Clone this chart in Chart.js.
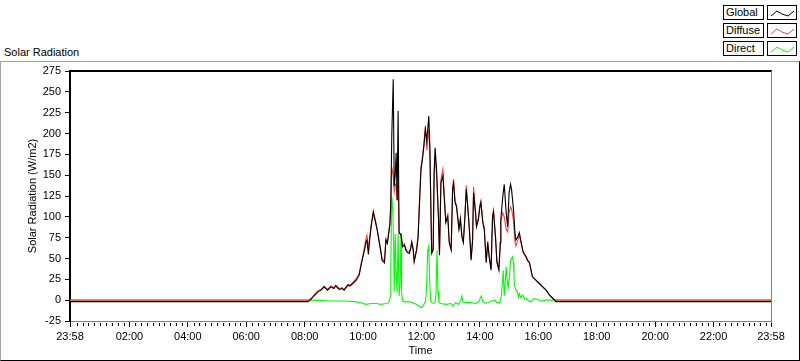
<!DOCTYPE html>
<html>
<head>
<meta charset="utf-8">
<script src="https://cdn.jsdelivr.net/npm/chart.js@4/dist/chart.umd.min.js"></script>
<style>
  html, body { margin:0; padding:0; background:#fff; }
  body { width:800px; height:361px; position:relative; overflow:hidden; font-family:"Liberation Sans", Arial, sans-serif; font-size:11px; color:#000; }
  #frame { position:absolute; left:0; top:61px; width:800px; height:300px; box-sizing:border-box;
           border-top:1px solid #a0a0a0; border-left:1px solid #a0a0a0; border-right:1px solid #000; border-bottom:1px solid #000; }
  #title { position:absolute; left:4px; top:46px; font-size:11px; }
  canvas { position:absolute; left:0; top:0; }
  .lg { position:absolute; box-sizing:border-box; border:1px solid #000; background:#fff; height:15px; }
  .lg.t { left:723px; width:41px; padding-left:2px; line-height:13px; font-size:11px; }
  .lg.s { left:767px; width:30px; }
  .lg svg { position:absolute; left:0; top:0; }
</style>
</head>
<body>
<div id="frame"></div>
<div id="title">Solar Radiation</div>
<canvas id="c" width="800" height="361"></canvas>
<div id="legend"></div>
<script>
// ---- data (minutes of day; 23:58 of previous day = -2) ----
const seriesNames = ["Global", "Diffuse", "Direct"];
const seriesColors = ["#000000", "#ff4040", "#00ff00"];
const xTickValues = [-2, 120, 240, 360, 480, 600, 720, 840, 960, 1080, 1200, 1320, 1438];
const xTickLabels = ["23:58","02:00","04:00","06:00","08:00","10:00","12:00","14:00","16:00","18:00","20:00","22:00","23:58"];

const sampleTimes = [
  -2, 473, 487, 493, 499, 507, 514, 520, 527, 534, 540, 544, 551, 557, 561, 569, 573, 579, 586, 592,
  596, 599, 603, 606, 608, 611, 614, 617, 621, 625, 629, 633, 636, 639, 644, 647, 650, 653, 655, 657,
  659, 662, 664, 666, 668, 670, 672, 674, 678, 681, 685, 688, 691, 695, 698, 700, 703, 705, 710, 713,
  716, 719, 722, 725, 728, 731, 735, 737, 741, 744, 746, 748, 751, 755, 757, 760, 764, 767, 770, 774,
  777, 781, 784, 786, 789, 792, 797, 800, 803, 806, 809, 812, 815, 818, 822, 825, 827, 831, 833, 837,
  840, 842, 846, 849, 853, 856, 859, 863, 866, 868, 872, 875, 879, 882, 883, 887, 890, 894, 897, 900,
  903, 905, 909, 912, 914, 918, 921, 924, 928, 931, 935, 938, 942, 945, 948, 955, 962, 969, 976, 983,
  990, 996, 1438
];
const globalValues = [
  -1.8, -1.8, -1.8, 1, 5, 10, 12, 16, 12, 16, 14, 17, 13, 14, 12, 18, 17, 20, 24, 30,
  42, 50, 60, 70, 72, 55, 75, 90, 105, 95, 84, 70, 60, 48, 45, 72, 68, 81, 90, 117,
  197, 265, 137, 150, 177, 120, 227, 81, 78, 64, 66, 60, 57, 56, 62, 69, 60, 46, 60, 75,
  117, 157, 169, 185, 205, 191, 221, 189, 56, 60, 153, 183, 157, 97, 54, 141, 149, 121, 93, 100,
  69, 60, 133, 140, 117, 112, 85, 97, 76, 69, 97, 133, 112, 88, 48, 72, 129, 105, 88, 97,
  112, 117, 93, 85, 45, 69, 52, 36, 100, 106, 76, 45, 36, 69, 97, 124, 139, 105, 88, 129,
  139, 133, 109, 81, 72, 76, 81, 72, 60, 56, 52, 48, 45, 36, 28, 24, 20, 16, 12, 6,
  2, -1.8, -1.8
];
const diffuseValues = [
  0, 0, 0, 2, 6, 11, 13, 17, 13, 17, 15, 18, 14, 15, 13, 19, 18, 21, 26, 32,
  44, 52, 64, 74, 78, 62, 77, 92, 107, 97, 86, 72, 62, 50, 47, 74, 70, 83, 92, 110,
  160, 150, 130, 138, 140, 120, 140, 80, 80, 66, 68, 62, 59, 58, 64, 71, 62, 48, 62, 77,
  120, 160, 172, 188, 209, 180, 205, 185, 58, 62, 150, 175, 150, 99, 56, 145, 157, 124, 95, 103,
  71, 62, 136, 145, 119, 114, 87, 99, 78, 71, 99, 138, 114, 90, 50, 74, 136, 107, 90, 99,
  114, 119, 95, 87, 47, 71, 54, 38, 102, 108, 78, 47, 38, 70, 95, 105, 100, 85, 82, 105,
  112, 110, 95, 70, 65, 72, 78, 70, 58, 55, 51, 47, 44, 36, 28, 24, 20, 16, 12, 6,
  2, 0, 0
];
const directTimes = [
  -2, 473, 493, 534, 565, 586, 596, 606, 617, 627, 637, 647, 653, 656, 657, 659, 661, 663, 664, 666,
  668, 670, 672, 674, 676, 678, 679, 681, 684, 698, 709, 715, 719, 724, 728, 730, 733, 735, 737, 739,
  741, 744, 748, 750, 752, 754, 756, 760, 770, 781, 784, 790, 796, 801, 803, 805, 811, 822, 832, 838,
  841, 843, 846, 853, 863, 871, 875, 881, 884, 887, 888, 890, 892, 894, 896, 898, 901, 903, 907, 909,
  910, 911, 914, 917, 919, 921, 924, 928, 932, 936, 940, 945, 951, 957, 965, 976, 1438
];
const directValues = [
  0, 0, 0, -1, -1, -2, -3, -5, -4, -4, -5, -4, -3, 5, 40, 125, 110, 60, 10, 80,
  30, 10, 80, 5, 20, 80, 10, 0, -2, -2, -5, -7, -9, -6, -2, 10, 60, 65, 20, 0,
  -3, -4, -3, 10, 60, 10, -3, -4, -5, -4, -7, -3, -5, 0, 5, -2, -3, -3, -4, -2,
  3, 5, -2, -4, -1, 0, -3, -3, 5, 25, 36, 5, 20, 40, 25, 15, 30, 48, 52, 45,
  30, 18, 12, 10, 4, 8, 3, 6, 1, 2, -1, -2, 2, 1, -1, 0, 0
];

const toPts = (ts, vs) => ts.map((t, i) => ({ x: t, y: vs[i] }));

// ---- legend ----
const lg = document.getElementById('legend');
const zig = "3,10 9,5 14,8 20,10 26,5";
seriesNames.forEach((n, i) => {
  const top = 5 + i * 18;
  const t = document.createElement('div');
  t.className = 'lg t'; t.style.top = top + 'px'; t.textContent = n;
  const s = document.createElement('div');
  s.className = 'lg s'; s.style.top = top + 'px';
  s.innerHTML = '<svg width="28" height="13"><polyline points="' + zig + '" fill="none" stroke="' + seriesColors[i] + '" stroke-width="1"/></svg>';
  lg.appendChild(t); lg.appendChild(s);
});

const FONT = { family: '"Liberation Sans", Arial, sans-serif', size: 11 };

const framePlugin = {
  id: 'framePlugin',
  afterDraw(chart) {
    const { ctx, chartArea: a } = chart;
    const xs = chart.scales.x;
    ctx.save();
    ctx.strokeStyle = '#000'; ctx.lineWidth = 2;
    ctx.beginPath(); ctx.moveTo(a.left - 1, a.top); ctx.lineTo(a.right + 1, a.top); ctx.stroke();
    ctx.strokeStyle = '#808080'; ctx.lineWidth = 1;
    ctx.beginPath(); ctx.moveTo(Math.round(a.right) + 0.5, a.top); ctx.lineTo(Math.round(a.right) + 0.5, a.bottom + 2); ctx.stroke();
    ctx.strokeStyle = '#000';
    ctx.beginPath();
    for (let m = 12; m < 1438; m += 12) {
      if (xTickValues.some(v => Math.abs(v - m) < 3)) continue;
      const px = Math.round(xs.getPixelForValue(m)) + 0.5;
      ctx.moveTo(px, a.bottom + 2); ctx.lineTo(px, a.bottom + 5);
    }
    ctx.stroke();
    ctx.restore();
  }
};

new Chart(document.getElementById('c'), {
  type: 'line',
  data: {
    datasets: [
      { label: 'Global', data: toPts(sampleTimes, globalValues), borderColor: seriesColors[0], borderWidth: 1.1, pointRadius: 0, tension: 0 },
      { label: 'Diffuse', data: toPts(sampleTimes, diffuseValues), borderColor: seriesColors[1], borderWidth: 1.1, pointRadius: 0, tension: 0 },
      { label: 'Direct', data: toPts(directTimes, directValues), borderColor: seriesColors[2], borderWidth: 1.1, pointRadius: 0, tension: 0 }
    ]
  },
  options: {
    responsive: false,
    animation: false,
    events: [],
    layout: { padding: { left: 0, top: 71, right: 29, bottom: 0 } },
    plugins: { legend: { display: false }, tooltip: { enabled: false } },
    scales: {
      x: {
        type: 'linear', min: -2, max: 1438,
        afterBuildTicks: s => { s.ticks = xTickValues.map(v => ({ value: v })); },
        afterFit: s => { s.height = 40; },
        ticks: {
          autoSkip: false, maxRotation: 0, font: FONT, color: '#000', padding: 3,
          callback: (v) => { const i = xTickValues.indexOf(v); return i >= 0 ? xTickLabels[i] : ''; }
        },
        grid: { drawOnChartArea: false, tickLength: 6, color: '#000' },
        border: { color: '#808080', width: 1 },
        title: { display: true, text: 'Time', font: FONT, color: '#000', padding: { top: 0, bottom: 3 } }
      },
      y: {
        min: -25, max: 275,
        afterFit: s => { s.width = 70; },
        ticks: { stepSize: 25, font: FONT, color: '#000', padding: 4 },
        grid: { drawOnChartArea: false, tickLength: 5, color: '#000' },
        border: { color: '#000', width: 2 },
        title: { display: true, text: 'Solar Radiation (W/m2)', font: FONT, color: '#000', padding: { top: 26, bottom: 0 } }
      }
    }
  },
  plugins: [framePlugin]
});
</script>
</body>
</html>
